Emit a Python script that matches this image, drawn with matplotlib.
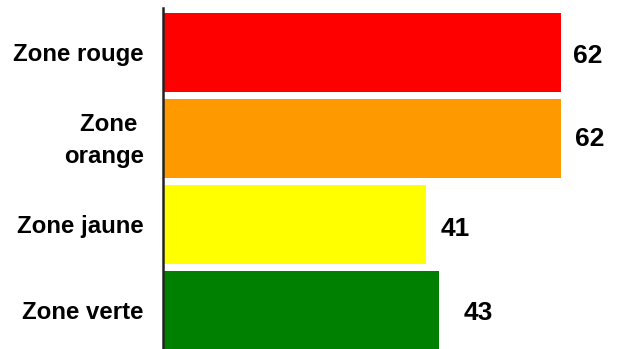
import matplotlib.pyplot as plt
from matplotlib.transforms import blended_transform_factory

# Data
categories = ['Zone rouge', 'Zone \norange', 'Zone jaune', 'Zone verte']
values = [62, 62, 41, 43]
colors = ['#FF0000', '#FF9900', '#FFFF00', '#008000']

# label offsets in pixels (dx, dy) to mimic the original placement
label_offsets = [(12, -4), (14, -1), (14, -5), (24, -3)]

plt.rcParams['font.family'] = ['Liberation Sans', 'DejaVu Sans']
plt.rcParams['font.weight'] = 'bold'

fig = plt.figure(figsize=(6.17, 3.49), dpi=100)
ax = fig.add_axes([164 / 617, 0, 448 / 617, 1 - 8 / 349])

y = list(range(len(categories)))
ax.barh(y, values, height=0.92, color=colors)

for i, v in enumerate(values):
    dx, dy = label_offsets[i]
    ax.annotate(str(v), xy=(v, y[i]), xytext=(dx * 0.72, dy * 0.72),
                textcoords='offset points', ha='left', va='center',
                fontsize=19, fontweight='bold')

ax.set_xlim(0, 70)
ax.set_ylim(3.448, -0.517)
ax.set_yticks([])
ax.set_xticks([])

# category labels drawn as text so the line spacing can be controlled
for i, cat in enumerate(categories):
    ax.annotate(cat, xy=(0, y[i]), xycoords=('axes fraction', 'data'),
                xytext=(-20 * 0.72, -2 * 0.72), textcoords='offset points',
                ha='right', va='center', fontsize=17.3, fontweight='bold',
                linespacing=1.45)

for s in ['top', 'right', 'bottom']:
    ax.spines[s].set_visible(False)
ax.spines['left'].set_linewidth(1.8)
ax.spines['left'].set_color('#222222')
ax.spines['left'].set_position(('outward', 1))

plt.savefig('out.png', dpi=100)
